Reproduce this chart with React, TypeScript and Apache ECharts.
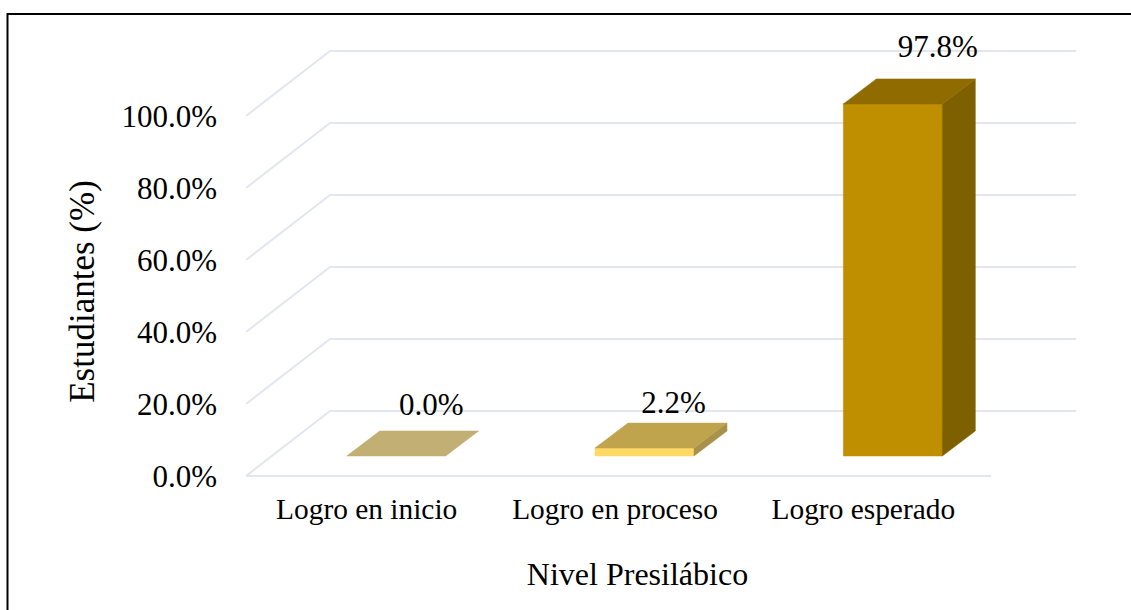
import React, { useEffect, useRef } from "react";
import * as echarts from "echarts";

const categories = ["Logro en inicio", "Logro en proceso", "Logro esperado"];
const values = [0.0, 2.2, 97.8];
const yTicks = [0, 20, 40, 60, 80, 100];
const frontColors = ["#C4B077", "#FFD966", "#BF8F00"];
const topColors = ["#C2AF74", "#BFA34D", "#8F6B00"];
const sideColors = ["#A99A63", "#A8914A", "#7F6000"];
const labelLift = [27, 21, 32];
const labelShift = [2, -4, 12];
const xTitle = "Nivel Presilábico";
const yTitle = "Estudiantes (%)";

const FONT = '"Liberation Serif", "Times New Roman", serif';
const GRID_COLOR = "#E3E6EE";
const DEPTH_X = 84;
const DEPTH_Y = 65;

export default function App() {
  const ref = useRef<HTMLDivElement>(null);
  useEffect(() => {
    const chart = echarts.init(ref.current!, undefined, { renderer: "svg" });
    chart.setOption({
      animation: false,
      backgroundColor: "#fff",
      grid: { left: 246, top: 116, width: 745, height: 360 },
      xAxis: {
        type: "category",
        data: categories,
        axisLine: { show: false },
        axisTick: { show: false },
        axisLabel: {
          color: "#000",
          fontFamily: FONT,
          fontSize: 29.4,
          margin: 18,
          interval: 0,
          padding: [0, 7, 0, 0],
        },
        name: xTitle,
        nameLocation: "middle",
        nameGap: 82,
        nameTextStyle: { color: "#000", fontFamily: FONT, fontSize: 32, padding: [0, 0, 0, 38] },
      },
      yAxis: {
        type: "value",
        min: 0,
        max: 100,
        interval: 20,
        axisLine: { show: false },
        axisTick: { show: false },
        splitLine: { show: false },
        axisLabel: {
          color: "#000",
          fontFamily: FONT,
          fontSize: 31,
          margin: 29,
          formatter: (v: number) => v.toFixed(1) + "%",
        },
        name: yTitle,
        nameLocation: "middle",
        nameGap: 146,
        nameTextStyle: { color: "#000", fontFamily: FONT, fontSize: 35, padding: [0, 0, 0, 9] },
      },
      series: [
        {
          type: "custom",
          coordinateSystem: "cartesian2d",
          silent: true,
          z: 1,
          data: yTicks.map((t) => [0, t]),
          encode: { x: 0, y: 1 },
          renderItem: (_p: any, api: any) => {
            const p = api.coord([0, api.value(1)]);
            const s = api.size([1, 0]);
            const left = p[0] - s[0] / 2;
            const lineStyle = { stroke: GRID_COLOR, lineWidth: 2, fill: "none" };
            const children: any[] = [
              {
                type: "polyline",
                shape: {
                  points: [
                    [left, p[1]],
                    [left + DEPTH_X, p[1] - DEPTH_Y],
                    [left + s[0] * 3 + DEPTH_X + 1, p[1] - DEPTH_Y],
                  ],
                },
                style: lineStyle,
              },
            ];
            if (api.value(1) === 0) {
              children.push({
                type: "line",
                shape: { x1: left, y1: p[1], x2: left + s[0] * 3, y2: p[1] },
                style: lineStyle,
              });
            }
            return { type: "group", children };
          },
        },
        {
          type: "custom",
          coordinateSystem: "cartesian2d",
          silent: true,
          z: 2,
          data: values.map((v, i) => [i, v]),
          encode: { x: 0, y: 1 },
          renderItem: (_p: any, api: any) => {
            const i = api.value(0);
            const top = api.coord([i, api.value(1)]);
            const base = api.coord([i, 0]);
            const w = 99;
            const dx = 33;
            const dy = 25;
            const x0 = base[0] + 26 - w / 2;
            const x1 = x0 + w;
            const yb = base[1] - 20;
            const yt = top[1] - 20;
            const poly = (points: number[][], fill: string) => ({
              type: "polygon",
              shape: { points },
              style: { fill, stroke: fill, lineWidth: 0.5 },
            });
            const children: any[] = [
              poly([[x0, yt], [x0 + dx, yt - dy], [x1 + dx, yt - dy], [x1, yt]], topColors[i]),
              {
                type: "text",
                style: {
                  text: (api.value(1) as number).toFixed(1) + "%",
                  x: x0 + w / 2 + dx + labelShift[i],
                  y: yt - dy - labelLift[i],
                  align: "center",
                  verticalAlign: "middle",
                  fill: "#000",
                  font: `31px ${FONT}`,
                },
              },
            ];
            if (yb - yt > 0.5) {
              children.unshift(
                poly([[x0, yt], [x1, yt], [x1, yb], [x0, yb]], frontColors[i]),
                poly([[x1, yt], [x1 + dx, yt - dy], [x1 + dx, yb - dy], [x1, yb]], sideColors[i])
              );
            }
            return { type: "group", children };
          },
        },
      ],
      graphic: [
        { type: "line", silent: true, shape: { x1: 7.5, y1: 14, x2: 1131, y2: 14 }, style: { stroke: "#000", lineWidth: 2 } },
        { type: "line", silent: true, shape: { x1: 7.5, y1: 13, x2: 7.5, y2: 610 }, style: { stroke: "#000", lineWidth: 2 } },
      ],
    });
    return () => chart.dispose();
  }, []);
  return <div ref={ref} style={{ position: "absolute", left: 0, top: 0, width: 1131, height: 610 }} />;
}
